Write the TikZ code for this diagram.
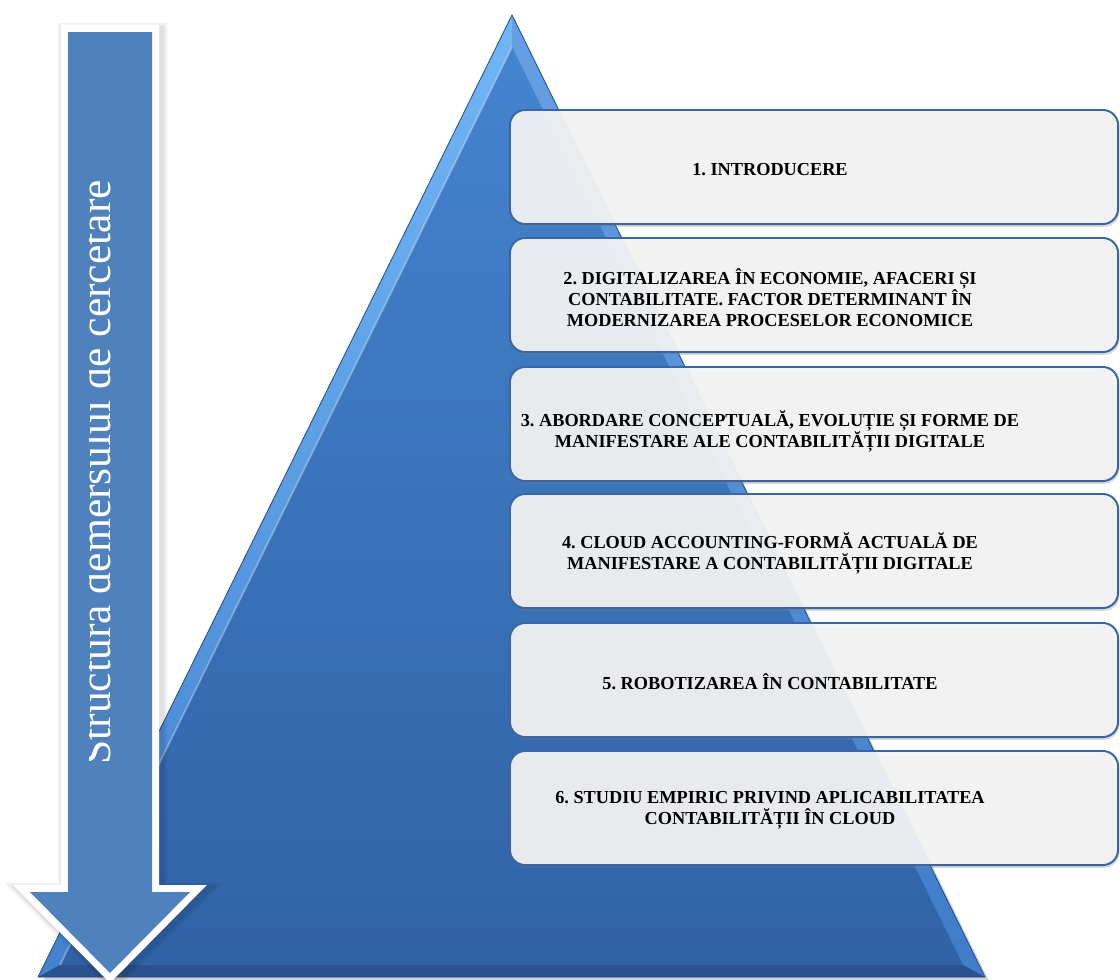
\documentclass[tikz,border=0pt]{standalone}
\usepackage{fontspec}
\setmainfont{Liberation Serif}
\usetikzlibrary{shadows}

\definecolor{pyrtop}{HTML}{4A8FE0}
\definecolor{pyrbot}{HTML}{3162A6}
\definecolor{pyrlight}{HTML}{72B6F6}
\definecolor{pyredge}{HTML}{24528F}
\definecolor{arrowblue}{HTML}{4F81BD}
\definecolor{boxfill}{HTML}{F4F4F4}
\definecolor{boxline}{HTML}{3A67A3}

\begin{document}
\frenchspacing
\begin{tikzpicture}[x=0.025cm,y=-0.025cm,
    stage/.style={draw=boxline, line width=1.4pt, fill=boxfill, fill opacity=0.93,
      rounded corners=0.38cm, minimum width=15.2cm, minimum height=2.85cm,
      drop shadow={shadow xshift=1pt, shadow yshift=-2pt, opacity=0.3}},
    stagetext/.style={font=\bfseries\fontsize{13}{15}\selectfont, align=center, text=black}]
  \useasboundingbox (0,0) rectangle (1120,980);

  % pyramid corners, outer and bevelled
  \coordinate (apex) at (512,15);
  \coordinate (bl) at (38,977);
  \coordinate (br) at (985,977);
  \coordinate (iapex) at (512,47);
  \coordinate (ibl) at (60,965);
  \coordinate (ibr) at (963,965);

  \fill[black, opacity=0.18] (515,20) -- (42,983) -- (990,983) -- cycle;
  \shade[top color=pyrtop, bottom color=pyrbot] (apex) -- (bl) -- (br) -- cycle;
  \shade[top color=pyrlight, bottom color=pyrtop!70!pyrbot] (apex) -- (bl) -- (ibl) -- (iapex) -- cycle;
  \shade[top color=pyrtop!85!white, bottom color=pyrtop!60!pyrbot] (apex) -- (br) -- (ibr) -- (iapex) -- cycle;
  \fill[pyrbot!85!black] (bl) -- (br) -- (ibr) -- (ibl) -- cycle;
  \shade[top color=pyrtop!92!black, bottom color=pyrbot] (iapex) -- (ibl) -- (ibr) -- cycle;
  \draw[white, opacity=0.35, line width=1.2pt] (iapex) -- (ibl);
  \draw[pyredge, line width=0.6pt] (apex) -- (bl) -- (br) -- cycle;

  % chapters
  \node[stage] (s1) at (814,167) {};
  \node[stagetext] (t1) at (770,170) {1. INTRODUCERE};
  \node[stage] (s2) at (814,295) {};
  \node[stagetext] (t2) at (770,298) {2. DIGITALIZAREA ÎN ECONOMIE, AFACERI ȘI\\CONTABILITATE. FACTOR DETERMINANT ÎN\\MODERNIZAREA PROCESELOR ECONOMICE};
  \node[stage] (s3) at (814,424) {};
  \node[stagetext] (t3) at (770,431) {3. ABORDARE CONCEPTUALĂ, EVOLUȚIE ȘI FORME DE\\MANIFESTARE ALE CONTABILITĂȚII DIGITALE};
  \node[stage] (s4) at (814,551) {};
  \node[stagetext] (t4) at (770,553) {4. CLOUD ACCOUNTING-FORMĂ ACTUALĂ DE\\MANIFESTARE A CONTABILITĂȚII DIGITALE};
  \node[stage] (s5) at (814,680) {};
  \node[stagetext] (t5) at (770,682) {5. ROBOTIZAREA ÎN CONTABILITATE};
  \node[stage] (s6) at (814,808) {};
  \node[stagetext] (t6) at (770,810) {6. STUDIU EMPIRIC PRIVIND APLICABILITATEA\\CONTABILITĂȚII ÎN CLOUD};

  % down arrow with soft shadow and white rim
  \draw[black, opacity=0.05, line width=0.6cm, line join=miter]
    (70,35) -- (155,35) -- (155,895) -- (193,895) -- (113,976) -- (33,895) -- (70,895) -- cycle;
  \draw[black, opacity=0.07, line width=0.48cm, line join=miter]
    (70,35) -- (155,35) -- (155,895) -- (193,895) -- (113,976) -- (33,895) -- (70,895) -- cycle;
  \draw[white, line width=0.35cm, line join=miter]
    (68,32) -- (152,32) -- (152,892) -- (190,892) -- (110,973) -- (30,892) -- (68,892) -- cycle;
  \fill[arrowblue]
    (68,32) -- (152,32) -- (152,892) -- (190,892) -- (110,973) -- (30,892) -- (68,892) -- cycle;
  \begin{scope}
    \clip (89,32) rectangle (152,892);
    \node[rotate=90, anchor=base west, inner sep=0pt, text=white, font=\fontsize{31}{31}\selectfont]
      (title) at (110,765) {Structura demersului de cercetare};
  \end{scope}
\end{tikzpicture}
\end{document}
